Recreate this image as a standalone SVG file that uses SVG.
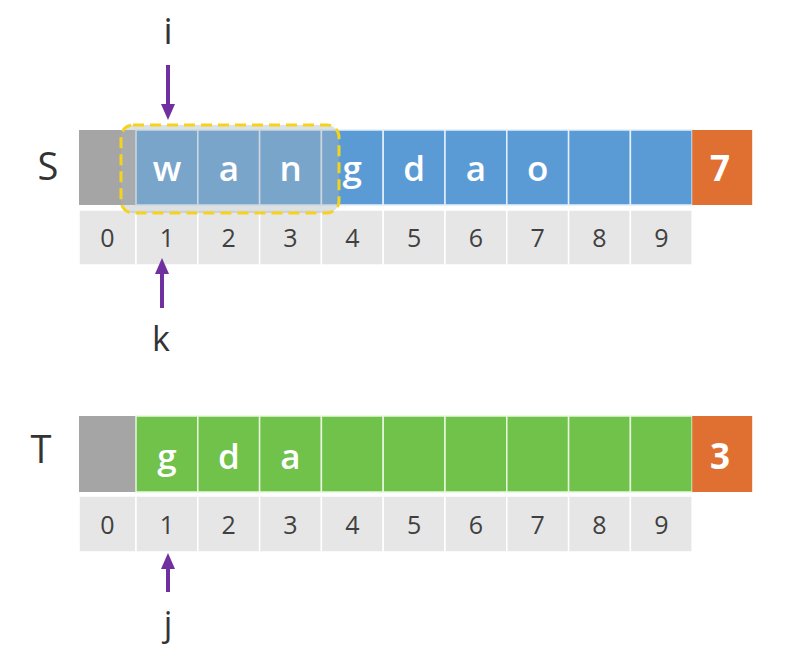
<svg xmlns="http://www.w3.org/2000/svg" width="809" height="670" viewBox="0 0 809 670">
<style>
  .lbl{font-family:"Open Sans","Liberation Sans",sans-serif;fill:#333;text-anchor:middle}
  .ch{font-family:"Open Sans","Liberation Sans",sans-serif;fill:#fff;font-size:35px;font-weight:600;text-anchor:middle}
  .num{font-weight:bold}
  .idx{font-family:"Open Sans","Liberation Sans",sans-serif;fill:#404040;font-size:25px;text-anchor:middle}
  .blue{fill:#5b9bd5;stroke:#e4f0fa;stroke-width:1.5}
  .green{fill:#70c24a;stroke:#e8f7df;stroke-width:1.5}
  .gray{fill:#a5a5a5}
  .org{fill:#e07032}
  .ix{fill:#e6e6e6;stroke:#fff;stroke-width:1.5}
  .arr{stroke:#7030a0;stroke-width:4;fill:none;marker-end:url(#ah)}
</style>
<defs>
  <marker id="ah" markerUnits="userSpaceOnUse" viewBox="0 0 16 14" markerWidth="16" markerHeight="14" refX="0" refY="7" orient="auto">
    <path d="M0,0 L16,7 L0,14 z" fill="#7030a0"/>
  </marker>
</defs>
<rect width="809" height="670" fill="#fff"/>

<g id="S-array">
  <text class="lbl" x="48" y="180" font-size="38">S</text>
  <rect class="gray" x="79" y="130" width="57" height="75"/>
  <rect class="blue" x="136" y="130" width="61.8" height="75"/>
  <rect class="blue" x="197.8" y="130" width="61.8" height="75"/>
  <rect class="blue" x="259.6" y="130" width="61.8" height="75"/>
  <rect class="blue" x="321.4" y="130" width="61.8" height="75"/>
  <rect class="blue" x="383.2" y="130" width="61.8" height="75"/>
  <rect class="blue" x="445" y="130" width="61.8" height="75"/>
  <rect class="blue" x="506.8" y="130" width="61.8" height="75"/>
  <rect class="blue" x="568.6" y="130" width="61.8" height="75"/>
  <rect class="blue" x="630.4" y="130" width="61.8" height="75"/>
  <rect class="org" x="692.2" y="130" width="60" height="75"/>
</g>

<g id="S-index">
  <rect class="ix" x="79" y="210" width="57" height="55"/>
  <rect class="ix" x="136" y="210" width="61.8" height="55"/>
  <rect class="ix" x="197.8" y="210" width="61.8" height="55"/>
  <rect class="ix" x="259.6" y="210" width="61.8" height="55"/>
  <rect class="ix" x="321.4" y="210" width="61.8" height="55"/>
  <rect class="ix" x="383.2" y="210" width="61.8" height="55"/>
  <rect class="ix" x="445" y="210" width="61.8" height="55"/>
  <rect class="ix" x="506.8" y="210" width="61.8" height="55"/>
  <rect class="ix" x="568.6" y="210" width="61.8" height="55"/>
  <rect class="ix" x="630.4" y="210" width="61.8" height="55"/>
  <text class="idx" x="107.5" y="247">0</text>
  <text class="idx" x="166.9" y="247">1</text>
  <text class="idx" x="228.7" y="247">2</text>
  <text class="idx" x="290.5" y="247">3</text>
  <text class="idx" x="352.3" y="247">4</text>
  <text class="idx" x="414.1" y="247">5</text>
  <text class="idx" x="475.9" y="247">6</text>
  <text class="idx" x="537.7" y="247">7</text>
  <text class="idx" x="599.5" y="247">8</text>
  <text class="idx" x="661.3" y="247">9</text>
</g>

<g id="window">
  <rect x="121" y="125" width="218" height="88" rx="12" fill="#aab4bc" fill-opacity="0.4" stroke="#f5d31c" stroke-width="3" stroke-dasharray="11 6"/>
</g>

<g id="S-chars">
  <text class="ch" x="167" y="181">w</text>
  <text class="ch" x="229" y="181">a</text>
  <text class="ch" x="290.5" y="181">n</text>
  <text class="ch" x="352.3" y="181">g</text>
  <text class="ch" x="414.1" y="181">d</text>
  <text class="ch" x="475.9" y="181">a</text>
  <text class="ch" x="537.7" y="181">o</text>
  <text class="ch num" x="720" y="181">7</text>
</g>

<g id="T-array">
  <text class="lbl" x="41" y="463" font-size="38">T</text>
  <rect class="gray" x="79" y="416" width="57" height="76"/>
  <rect class="green" x="136" y="416" width="61.8" height="76"/>
  <rect class="green" x="197.8" y="416" width="61.8" height="76"/>
  <rect class="green" x="259.6" y="416" width="61.8" height="76"/>
  <rect class="green" x="321.4" y="416" width="61.8" height="76"/>
  <rect class="green" x="383.2" y="416" width="61.8" height="76"/>
  <rect class="green" x="445" y="416" width="61.8" height="76"/>
  <rect class="green" x="506.8" y="416" width="61.8" height="76"/>
  <rect class="green" x="568.6" y="416" width="61.8" height="76"/>
  <rect class="green" x="630.4" y="416" width="61.8" height="76"/>
  <rect class="org" x="692.2" y="416" width="60" height="76"/>
  <text class="ch" x="167" y="469">g</text>
  <text class="ch" x="229" y="469">d</text>
  <text class="ch" x="290.5" y="469">a</text>
  <text class="ch num" x="720" y="469">3</text>
</g>

<g id="T-index">
  <rect class="ix" x="79" y="496" width="57" height="56"/>
  <rect class="ix" x="136" y="496" width="61.8" height="56"/>
  <rect class="ix" x="197.8" y="496" width="61.8" height="56"/>
  <rect class="ix" x="259.6" y="496" width="61.8" height="56"/>
  <rect class="ix" x="321.4" y="496" width="61.8" height="56"/>
  <rect class="ix" x="383.2" y="496" width="61.8" height="56"/>
  <rect class="ix" x="445" y="496" width="61.8" height="56"/>
  <rect class="ix" x="506.8" y="496" width="61.8" height="56"/>
  <rect class="ix" x="568.6" y="496" width="61.8" height="56"/>
  <rect class="ix" x="630.4" y="496" width="61.8" height="56"/>
  <text class="idx" x="107.5" y="534">0</text>
  <text class="idx" x="166.9" y="534">1</text>
  <text class="idx" x="228.7" y="534">2</text>
  <text class="idx" x="290.5" y="534">3</text>
  <text class="idx" x="352.3" y="534">4</text>
  <text class="idx" x="414.1" y="534">5</text>
  <text class="idx" x="475.9" y="534">6</text>
  <text class="idx" x="537.7" y="534">7</text>
  <text class="idx" x="599.5" y="534">8</text>
  <text class="idx" x="661.3" y="534">9</text>
</g>

<g id="label-i"><text class="lbl" x="168" y="44" font-size="36">i</text></g>
<g id="label-k"><text class="lbl" x="161" y="351" font-size="34">k</text></g>
<g id="label-j"><text class="lbl" x="168" y="636" font-size="34">j</text></g>

<g id="connectors">
  <line class="arr" x1="168" y1="65" x2="168" y2="104"/>
  <line class="arr" x1="162" y1="308" x2="162" y2="274"/>
  <line class="arr" x1="168" y1="592" x2="168" y2="569"/>
</g>
</svg>
